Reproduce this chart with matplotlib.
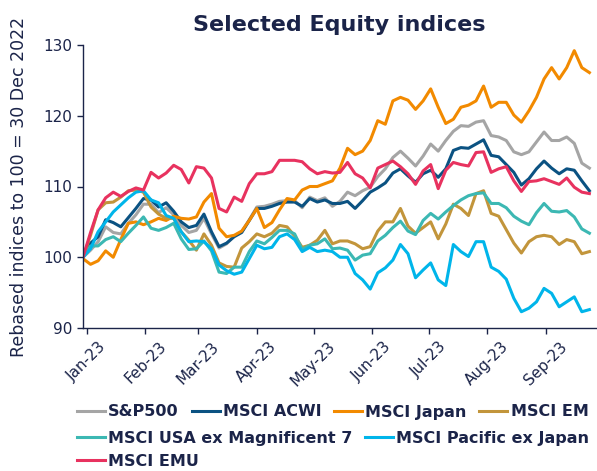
import matplotlib
matplotlib.use("Agg")
import matplotlib.pyplot as plt
import matplotlib.dates as mdates
import pandas as pd

# 4-day sampled readings, rebased to 100 = 30 Dec 2022
dates = pd.date_range("2022-12-30", periods=68, freq="4D")

sp500 = [100.0, 101.0, 102.2, 104.3, 103.5, 103.3, 104.8, 106.0, 107.5, 107.5, 106.3, 107.0, 106.0, 104.5, 103.5, 103.8, 105.5,
         103.3, 101.3, 101.9, 103.0, 103.6, 105.3, 107.1, 107.2, 107.5, 107.9, 108.0, 108.0, 107.0, 108.5, 108.0, 108.4,
         107.2, 107.9, 109.2, 108.7, 109.4, 109.9, 111.4, 112.5, 114.1, 115.0, 114.0, 112.9, 114.3, 116.0, 115.0, 116.5, 117.8,
         118.6, 118.5, 119.1, 119.3, 117.2, 117.0, 116.5, 114.9, 114.5, 114.9, 116.3, 117.7, 116.5, 116.5, 117.0, 116.1, 113.3, 112.6]
acwi = [100.0, 102.0, 102.9, 105.3, 104.9, 104.3, 105.6, 106.9, 108.3, 108.1, 107.1, 107.7, 106.5, 105.0, 104.2, 104.5, 106.1,
        103.6, 101.5, 102.0, 102.9, 103.5, 105.2, 106.9, 106.9, 107.2, 107.6, 107.8, 107.8, 107.2, 108.3, 107.8, 108.1,
        107.6, 107.6, 107.9, 106.9, 108.0, 109.2, 109.8, 110.5, 111.9, 112.5, 111.5, 110.6, 111.8, 112.3, 111.3, 112.5, 115.1,
        115.5, 115.4, 116.0, 116.6, 114.4, 114.2, 113.1, 112.0, 110.2, 111.1, 112.5, 113.6, 112.6, 111.8, 112.5, 112.3, 110.8, 109.4]
japan = [99.8, 99.0, 99.5, 100.9, 100.0, 102.5, 104.8, 105.0, 104.6, 105.0, 105.5, 105.2, 105.8, 105.5, 105.4, 105.7, 107.8,
         109.0, 104.1, 102.9, 103.1, 103.7, 105.2, 106.9, 104.2, 104.9, 106.7, 108.3, 108.1, 109.5, 110.0, 110.0, 110.4,
         110.8, 112.6, 115.4, 114.5, 115.0, 116.5, 119.3, 118.8, 122.1, 122.6, 122.2, 120.9, 122.1, 123.8, 121.2, 118.9, 119.5,
         121.2, 121.5, 122.1, 124.2, 121.2, 121.9, 121.9, 120.1, 119.1, 120.7, 122.6, 125.2, 126.8, 125.2, 126.8, 129.2, 126.8, 126.1]
em = [100.0, 103.1, 106.7, 107.7, 107.8, 108.5, 109.4, 109.5, 109.2, 107.1, 106.1, 105.5, 105.5, 103.6, 102.4, 101.0, 103.3,
      101.7, 99.2, 98.7, 98.6, 101.3, 102.2, 103.3, 102.9, 103.4, 104.5, 104.3, 103.0, 101.4, 101.7, 102.4, 103.8,
      101.9, 102.3, 102.3, 101.9, 101.2, 101.5, 103.7, 105.0, 105.0, 106.9, 104.4, 103.4, 104.2, 105.0, 102.6, 104.7, 107.5,
      106.9, 105.9, 109.0, 109.4, 106.2, 105.8, 103.9, 102.0, 100.6, 102.2, 102.9, 103.1, 102.9, 101.8, 102.5, 102.2, 100.5, 100.8]
usa_ex_mag7 = [100.0, 101.6, 101.6, 102.5, 102.9, 102.2, 103.4, 104.5, 105.7, 104.1, 103.8, 104.2, 104.8, 102.6, 101.1, 101.2, 102.3,
               100.9, 97.9, 97.7, 98.6, 98.6, 100.8, 102.3, 101.9, 102.8, 103.8, 103.8, 103.3, 101.1, 101.7, 101.9, 102.6,
               101.2, 101.3, 101.0, 99.6, 100.3, 100.5, 102.3, 103.1, 104.2, 105.1, 103.7, 103.2, 105.2, 106.2, 105.4, 106.4, 107.3,
               108.1, 108.7, 109.0, 109.1, 107.6, 107.6, 107.0, 105.8, 105.1, 104.6, 106.3, 107.6, 106.5, 106.4, 106.6, 105.7, 104.0, 103.4]
pacific_ex_japan = [100.0, 101.2, 103.6, 105.0, 106.4, 107.4, 108.4, 109.2, 109.4, 108.1, 107.7, 105.9, 105.5, 103.6, 102.2, 102.3, 102.2,
                    101.2, 98.9, 98.1, 97.6, 97.9, 99.8, 101.7, 101.2, 101.4, 102.9, 103.3, 102.5, 100.8, 101.4, 100.8, 101.0,
                    100.8, 100.0, 100.0, 97.7, 96.8, 95.5, 97.8, 98.5, 99.6, 101.8, 100.5, 97.1, 98.2, 99.2, 96.8, 96.0, 101.8,
                    100.8, 100.1, 102.2, 102.2, 98.6, 98.0, 96.9, 94.2, 92.3, 92.8, 93.7, 95.6, 94.9, 93.0, 93.7, 94.4, 92.3, 92.6]
emu = [100.0, 103.5, 106.7, 108.4, 109.2, 108.6, 109.3, 109.8, 109.5, 112.0, 111.2, 111.9, 113.0, 112.4, 110.5, 112.8, 112.6,
       111.2, 106.9, 106.4, 108.5, 107.9, 110.4, 111.8, 111.8, 112.1, 113.7, 113.7, 113.7, 113.5, 112.5, 111.8, 112.1,
       111.9, 112.0, 113.4, 111.8, 111.2, 109.8, 112.6, 113.1, 113.6, 112.8, 111.8, 110.3, 112.2, 113.1, 109.7, 112.3, 113.4,
       113.1, 112.9, 114.8, 114.9, 112.0, 112.5, 112.8, 110.8, 109.3, 110.7, 110.8, 111.1, 110.7, 110.3, 111.2, 109.9, 109.2, 109.0]

names = ["S&P500", "MSCI ACWI", "MSCI Japan", "MSCI EM",
         "MSCI USA ex Magnificent 7", "MSCI Pacific ex Japan", "MSCI EMU"]
series = [sp500, acwi, japan, em, usa_ex_mag7, pacific_ex_japan, emu]
colors = ["#a5a5a5", "#0b5282", "#f28a00", "#c2953b", "#3cb8b3", "#00b5ea", "#e8325f"]

navy = "#1b2449"

fig = plt.figure(figsize=(5.97, 4.71), dpi=100)
ax = fig.add_axes([83 / 597, 1 - 328 / 471, 513 / 597, 283 / 471])

lines = []
for vals, name, col in zip(series, names, colors):
    ln, = ax.plot(dates, vals, color=col, lw=2.2, label=name)
    lines.append(ln)

ax.set_ylim(90, 130)
ax.set_yticks([90, 100, 110, 120, 130])
ax.set_xlim(dates[0], pd.Timestamp("2023-09-27 12:00"))
ax.xaxis.set_major_locator(mdates.MonthLocator())
ax.xaxis.set_major_formatter(mdates.DateFormatter("%b-%y"))

for s in ["top", "right"]:
    ax.spines[s].set_visible(False)
for s in ["left", "bottom"]:
    ax.spines[s].set_color(navy)
    ax.spines[s].set_linewidth(1.0)

ax.tick_params(colors=navy, labelsize=11, length=4, width=1.0, direction="out")
ax.tick_params(axis="y", pad=3.5)
ax.tick_params(axis="x", pad=4)
for lab in ax.get_xticklabels():
    lab.set_rotation(45)
    lab.set_ha("center")
    lab.set_va("top")

ax.set_ylabel("Rebased indices to 100 = 30 Dec 2022", color=navy, fontsize=12.5, labelpad=11)
ax.set_title("Selected Equity indices", color=navy, fontsize=16, fontweight="bold", pad=10)

# flow-style legend, one legend per row
rows = [(lines[0:4], 412), (lines[4:6], 438), (lines[6:7], 461)]
for hs, ypix in rows:
    leg = fig.legend(handles=hs, loc="center left", bbox_to_anchor=(77 / 597, 1 - ypix / 471),
                     ncol=len(hs), frameon=False, borderpad=0, borderaxespad=0,
                     handlelength=1.75, handletextpad=0.2, columnspacing=0.8,
                     prop={"size": 11.5, "weight": "bold"})
    for t in leg.get_texts():
        t.set_color(navy)

fig.savefig("out.png", dpi=100)
